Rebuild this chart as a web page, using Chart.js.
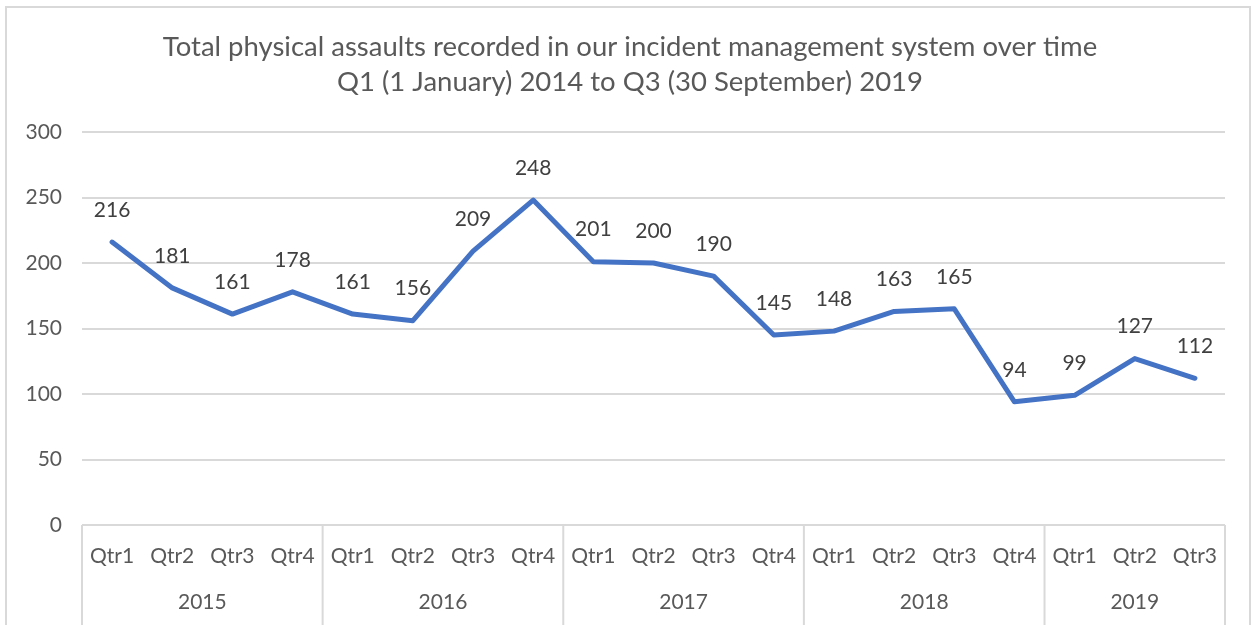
<!DOCTYPE html>
<html>
<head>
<meta charset="utf-8">
<script src="https://cdn.jsdelivr.net/npm/chart.js@4/dist/chart.umd.min.js"></script>
<style>
html, body { margin: 0; padding: 0; background: #ffffff; }
</style>
</head>
<body>
<canvas id="AssaultsChart" width="1253" height="625"></canvas>
<script>
const titleLines = [
    'Total physical assaults recorded in our incident management system over time',
    'Q1 (1 January) 2014 to Q3 (30 September) 2019'
];
const quarterLabels = ['Qtr1', 'Qtr2', 'Qtr3', 'Qtr4', 'Qtr1', 'Qtr2', 'Qtr3', 'Qtr4', 'Qtr1', 'Qtr2',
    'Qtr3', 'Qtr4', 'Qtr1', 'Qtr2', 'Qtr3', 'Qtr4', 'Qtr1', 'Qtr2', 'Qtr3'];
const yearLabels = ['2015', '2016', '2017', '2018', '2019'];
const quartersPerYear = [4, 4, 4, 4, 3];
const assaultCounts = [216, 181, 161, 178, 161, 156, 209, 248, 201, 200, 190, 145, 148, 163, 165, 94, 99, 127, 112];
const yMin = 0;
const yMax = 300;
const yStep = 50;

const FontFamily = 'Lato, "Open Sans", sans-serif';
const TextColor = '#595959';
const LabelColor = '#404040';
const GridColor = '#d9d9d9';
const LineColor = '#4472c4';

const excelLook = {
    id: 'excelLook',
    beforeDraw(chart) {
        const ctx = chart.ctx;
        ctx.save();
        ctx.strokeStyle = GridColor;
        ctx.lineWidth = 2;
        ctx.strokeRect(6, 7, chart.width - 9, chart.height + 20);
        ctx.restore();
    },
    afterDraw(chart) {
        const ctx = chart.ctx;
        const x = chart.scales.x;
        const area = chart.chartArea;
        ctx.save();

        // title
        ctx.fillStyle = TextColor;
        ctx.textAlign = 'center';
        ctx.textBaseline = 'middle';
        ctx.font = '27.5px ' + FontFamily;
        ctx.fillText(titleLines[0], 630, 47);
        ctx.fillText(titleLines[1], 630, 82);

        // data labels
        ctx.fillStyle = LabelColor;
        ctx.font = '21px ' + FontFamily;
        chart.getDatasetMeta(0).data.forEach(function (pt, i) {
            ctx.fillText(String(assaultCounts[i]), pt.x, pt.y - 32);
        });

        // year groups under the quarter labels
        const half = (x.getPixelForValue(1) - x.getPixelForValue(0)) / 2;
        ctx.strokeStyle = GridColor;
        ctx.lineWidth = 2;
        ctx.fillStyle = TextColor;
        let start = 0;
        for (let g = 0; g < yearLabels.length; g++) {
            const end = start + quartersPerYear[g] - 1;
            const left = x.getPixelForValue(start) - half;
            const right = x.getPixelForValue(end) + half;
            ctx.beginPath();
            ctx.moveTo(left, area.bottom);
            ctx.lineTo(left, chart.height);
            if (g === yearLabels.length - 1) {
                ctx.moveTo(right, area.bottom);
                ctx.lineTo(right, chart.height);
            }
            ctx.stroke();
            ctx.fillText(yearLabels[g], (left + right) / 2, area.bottom + 77);
            start = end + 1;
        }
        ctx.restore();
    }
};

new Chart(document.getElementById('AssaultsChart'),
{
    type: 'line',
    data:
    {
        labels: quarterLabels,
        datasets: [{
            data: assaultCounts,
            borderColor: LineColor,
            borderWidth: 5,
            pointRadius: 0,
            tension: 0,
            borderCapStyle: 'round',
            borderJoinStyle: 'round'
        }]
    },
    options:
    {
        responsive: false,
        animation: false,
        layout: { padding: { top: 132, right: 28, left: 0, bottom: 0 } },
        plugins:
        {
            legend: { display: false },
            title: { display: false },
            tooltip: { enabled: false }
        },
        scales:
        {
            x:
            {
                offset: true,
                grid: { display: false },
                border: { display: false },
                ticks: { color: TextColor, font: { size: 21, family: FontFamily }, padding: 11, maxRotation: 0, autoSkip: false },
                afterFit(scale) { scale.height = 100; }
            },
            y:
            {
                min: yMin,
                max: yMax,
                grid: { color: GridColor, lineWidth: 2, drawTicks: false },
                border: { display: false },
                ticks: { stepSize: yStep, color: TextColor, font: { size: 21, family: FontFamily }, padding: 20 },
                afterFit(scale) { scale.width = 82; }
            }
        }
    },
    plugins: [excelLook]
});
</script>
</body>
</html>
